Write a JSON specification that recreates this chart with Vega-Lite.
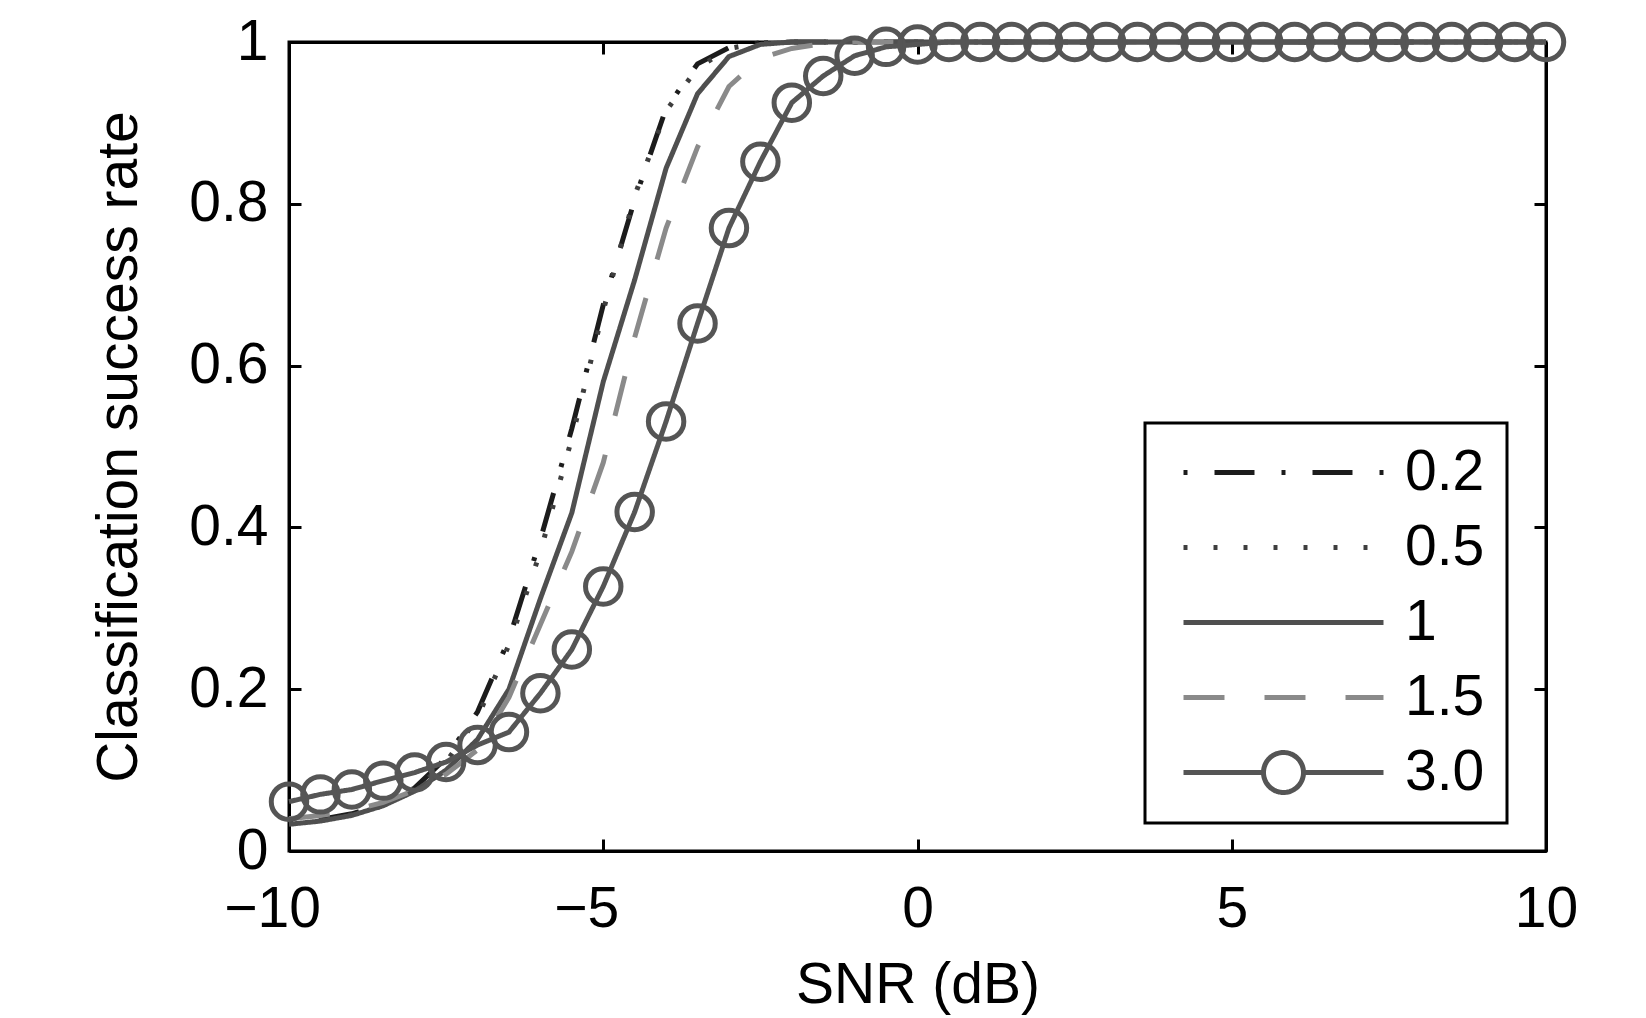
{
  "$schema": "https://vega.github.io/schema/vega-lite/v6.json",
  "width": 1257,
  "height": 809,
  "autosize": {"type": "none"},
  "padding": {"left": 289, "top": 42, "right": 100, "bottom": 167},
  "background": "white",
  "config": {
    "view": {"stroke": "black", "strokeWidth": 3},
    "font": "Liberation Sans",
    "axis": {
      "domainColor": "black", "domainWidth": 3,
      "tickColor": "black", "tickWidth": 3, "tickSize": -12,
      "labelColor": "black", "labelFont": "Liberation Sans", "labelFontSize": 57,
      "titleColor": "black", "titleFont": "Liberation Sans", "titleFontSize": 57, "titleFontWeight": "normal",
      "grid": false
    },
    "legend": {
      "labelFont": "Liberation Sans", "labelFontSize": 57, "labelColor": "black",
      "strokeWidth": 3
    }
  },
  "data": {
    "values": [
      {"x": -10, "s02": 0.035, "s05": 0.034, "s1": 0.033, "s15": 0.040, "s30": 0.061},
      {"x": -9.5, "s02": 0.039, "s05": 0.038, "s1": 0.037, "s15": 0.044, "s30": 0.070},
      {"x": -9, "s02": 0.046, "s05": 0.045, "s1": 0.044, "s15": 0.050, "s30": 0.076},
      {"x": -8.5, "s02": 0.058, "s05": 0.056, "s1": 0.056, "s15": 0.060, "s30": 0.087},
      {"x": -8, "s02": 0.078, "s05": 0.075, "s1": 0.074, "s15": 0.075, "s30": 0.097},
      {"x": -7.5, "s02": 0.115, "s05": 0.110, "s1": 0.100, "s15": 0.095, "s30": 0.110},
      {"x": -7, "s02": 0.172, "s05": 0.165, "s1": 0.138, "s15": 0.125, "s30": 0.131},
      {"x": -6.5, "s02": 0.262, "s05": 0.255, "s1": 0.200, "s15": 0.190, "s30": 0.147},
      {"x": -6, "s02": 0.385, "s05": 0.370, "s1": 0.312, "s15": 0.280, "s30": 0.195},
      {"x": -5.5, "s02": 0.522, "s05": 0.510, "s1": 0.418, "s15": 0.370, "s30": 0.249},
      {"x": -5, "s02": 0.675, "s05": 0.668, "s1": 0.580, "s15": 0.480, "s30": 0.327},
      {"x": -4.5, "s02": 0.805, "s05": 0.810, "s1": 0.706, "s15": 0.635, "s30": 0.419},
      {"x": -4, "s02": 0.918, "s05": 0.915, "s1": 0.844, "s15": 0.770, "s30": 0.531},
      {"x": -3.5, "s02": 0.973, "s05": 0.968, "s1": 0.936, "s15": 0.870, "s30": 0.652},
      {"x": -3, "s02": 0.993, "s05": 0.992, "s1": 0.982, "s15": 0.945, "s30": 0.770},
      {"x": -2.5, "s02": 0.999, "s05": 0.999, "s1": 0.997, "s15": 0.980, "s30": 0.852},
      {"x": -2, "s02": 1, "s05": 1, "s1": 1, "s15": 0.992, "s30": 0.925},
      {"x": -1.5, "s02": 1, "s05": 1, "s1": 1, "s15": 0.998, "s30": 0.958},
      {"x": -1, "s02": 1, "s05": 1, "s1": 1, "s15": 1, "s30": 0.983},
      {"x": -0.5, "s02": 1, "s05": 1, "s1": 1, "s15": 1, "s30": 0.994},
      {"x": 0, "s02": 1, "s05": 1, "s1": 1, "s15": 1, "s30": 0.997},
      {"x": 0.5, "s02": 1, "s05": 1, "s1": 1, "s15": 1, "s30": 1},
      {"x": 1, "s02": 1, "s05": 1, "s1": 1, "s15": 1, "s30": 1},
      {"x": 1.5, "s02": 1, "s05": 1, "s1": 1, "s15": 1, "s30": 1},
      {"x": 2, "s02": 1, "s05": 1, "s1": 1, "s15": 1, "s30": 1},
      {"x": 2.5, "s02": 1, "s05": 1, "s1": 1, "s15": 1, "s30": 1},
      {"x": 3, "s02": 1, "s05": 1, "s1": 1, "s15": 1, "s30": 1},
      {"x": 3.5, "s02": 1, "s05": 1, "s1": 1, "s15": 1, "s30": 1},
      {"x": 4, "s02": 1, "s05": 1, "s1": 1, "s15": 1, "s30": 1},
      {"x": 4.5, "s02": 1, "s05": 1, "s1": 1, "s15": 1, "s30": 1},
      {"x": 5, "s02": 1, "s05": 1, "s1": 1, "s15": 1, "s30": 1},
      {"x": 5.5, "s02": 1, "s05": 1, "s1": 1, "s15": 1, "s30": 1},
      {"x": 6, "s02": 1, "s05": 1, "s1": 1, "s15": 1, "s30": 1},
      {"x": 6.5, "s02": 1, "s05": 1, "s1": 1, "s15": 1, "s30": 1},
      {"x": 7, "s02": 1, "s05": 1, "s1": 1, "s15": 1, "s30": 1},
      {"x": 7.5, "s02": 1, "s05": 1, "s1": 1, "s15": 1, "s30": 1},
      {"x": 8, "s02": 1, "s05": 1, "s1": 1, "s15": 1, "s30": 1},
      {"x": 8.5, "s02": 1, "s05": 1, "s1": 1, "s15": 1, "s30": 1},
      {"x": 9, "s02": 1, "s05": 1, "s1": 1, "s15": 1, "s30": 1},
      {"x": 9.5, "s02": 1, "s05": 1, "s1": 1, "s15": 1, "s30": 1},
      {"x": 10, "s02": 1, "s05": 1, "s1": 1, "s15": 1, "s30": 1}
    ]
  },
  "layer": [
    {
      "transform": [{"fold": ["s02", "s05", "s1", "s15", "s30"], "as": ["series", "v"]}],
      "mark": {"type": "line", "strokeWidth": 5, "strokeCap": "butt"},
      "encoding": {
        "x": {
          "field": "x", "type": "quantitative",
          "scale": {"domain": [-10, 10], "nice": false, "zero": false},
          "axis": {
            "orient": "bottom", "values": [-10, -5, 0, 5, 10], "labelPadding": 42,
            "title": "SNR (dB)", "titlePadding": 20, "labelFlush": false,
            "labelOffset": {"condition": {"test": "datum.value < 0", "value": -17}, "value": 0}
          }
        },
        "y": {
          "field": "v", "type": "quantitative",
          "scale": {"domain": [0, 1], "nice": false},
          "axis": {"orient": "left", "values": [0, 0.2, 0.4, 0.6, 0.8, 1], "format": "~g", "labelPadding": 33, "title": "Classification success rate", "titlePadding": 40}
        },
        "color": {
          "field": "series", "type": "nominal",
          "scale": {"domain": ["s02", "s05", "s1", "s15", "s30"], "range": ["#1c1c1c", "#3e3e3e", "#4f4f4f", "#8a8a8a", "#555555"]},
          "legend": {
            "title": null, "orient": "none", "legendX": 856, "legendY": 381,
            "padding": 22, "strokeColor": "black", "fillColor": "white",
            "symbolType": "stroke", "symbolSize": 40000, "symbolStrokeWidth": 5,
            "symbolOffset": 14, "labelOffset": 19, "clipHeight": 55, "rowPadding": 17,
            "labelExpr": "datum.value == 's02' ? '0.2' : datum.value == 's05' ? '0.5' : datum.value == 's1' ? '1' : datum.value == 's15' ? '1.5' : '3.0'",
            "encode": {
              "symbols": {
                "update": {
                  "shape": {"signal": "datum.value == 's30' ? 'M-1,0H-0.2M0.2,0H1M0.2,0A0.2,0.2,0,1,1,-0.2,0A0.2,0.2,0,1,1,0.2,0' : 'stroke'"},
                  "fill": {"value": "transparent"}
                }
              }
            }
          }
        },
        "strokeDash": {
          "field": "series", "type": "nominal",
          "scale": {"domain": ["s02", "s05", "s1", "s15", "s30"], "range": [[4, 27, 40, 27], [4, 26], [1, 0], [41, 40], [1, 0]]}
        }
      }
    },
    {
      "mark": {"type": "point", "shape": "circle", "filled": false, "size": 1257, "strokeWidth": 5, "color": "#555555", "opacity": 1},
      "encoding": {
        "x": {
          "field": "x", "type": "quantitative",
          "scale": {"domain": [-10, 10], "nice": false, "zero": false},
          "axis": {"orient": "top", "values": [-10, -5, 0, 5, 10], "labels": false, "title": null}
        },
        "y": {
          "field": "s30", "type": "quantitative",
          "scale": {"domain": [0, 1], "nice": false},
          "axis": {"orient": "right", "values": [0, 0.2, 0.4, 0.6, 0.8, 1], "labels": false, "title": null}
        }
      }
    }
  ],
  "resolve": {"axis": {"x": "independent", "y": "independent"}}
}
